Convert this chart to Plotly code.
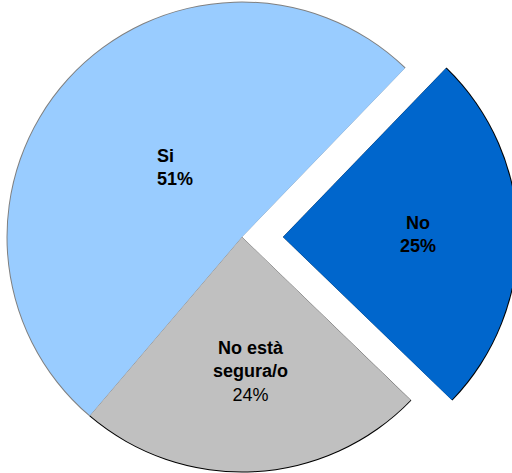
import plotly.graph_objects as go

# ---- data ----
labels = ["Si", "No està segura/o", "No"]
label_text = ["Si", "No està<br>segura/o", "No"]
values = [51, 24, 25]
fill_colors = ["#99CCFF", "#C0C0C0", "#0066CC"]
edge_colors = ["#808080", "#000000", "#000000"]

# canvas is a little wider than the 512px window so the exploded slice is
# clipped at the window edge like in the original
W, H = 520, 473
TRANSP = "rgba(0,0,0,0)"


def dom(cx, cy, r):
    return dict(x=[(cx - r) / W, (cx + r) / W], y=[1 - (cy + r) / H, 1 - (cy - r) / H])


def pie(domain, colors):
    return go.Pie(
        labels=labels, values=values, sort=False, direction="counterclockwise",
        rotation=220.4, domain=domain, marker=dict(colors=colors, line=dict(width=0)),
        textinfo="none", hoverinfo="label+percent", showlegend=False,
    )


main_c = (242, 237)
no_c = (283, 237)
main_edges = [edge_colors[0], edge_colors[1], TRANSP]
main_fill = [fill_colors[0], fill_colors[1], TRANSP]
no_edges = [TRANSP, TRANSP, edge_colors[2]]
no_fill = [TRANSP, TRANSP, fill_colors[2]]

fig = go.Figure()
fig.add_trace(pie(dom(*main_c, 235.5), main_edges))
fig.add_trace(pie(dom(*main_c, 234.5), main_fill))
fig.add_trace(pie(dom(*no_c, 235.5), no_edges))
fig.add_trace(pie(dom(*no_c, 234.5), no_fill))

font = dict(family="Arial, Liberation Sans, sans-serif", size=18, color="#000000")
ann = [
    dict(text=f"<b>{label_text[0]}<br>{values[0]}%</b>", x=155 / W, y=1 - 167 / H,
         xanchor="left", align="left"),
    dict(text=f"<b>{label_text[2]}<br>{values[2]}%</b>", x=417.5 / W, y=1 - 234 / H,
         xanchor="center", align="center"),
    dict(text=f"<b>{label_text[1]}</b><br>{values[1]}%", x=250.5 / W, y=1 - 371 / H,
         xanchor="center", align="center"),
]
for a in ann:
    a.update(xref="paper", yref="paper", yanchor="middle", showarrow=False, font=font)

fig.update_layout(
    width=W, height=H, margin=dict(l=0, r=0, t=0, b=0),
    paper_bgcolor="#FFFFFF", plot_bgcolor="#FFFFFF", annotations=ann,
)
fig.write_html(
    "out.html",
    config={"displayModeBar": False},
    post_script=(
        "document.documentElement.style.overflow='hidden';"
        "document.body.style.margin='0';document.body.style.overflow='hidden';"
    ),
)
